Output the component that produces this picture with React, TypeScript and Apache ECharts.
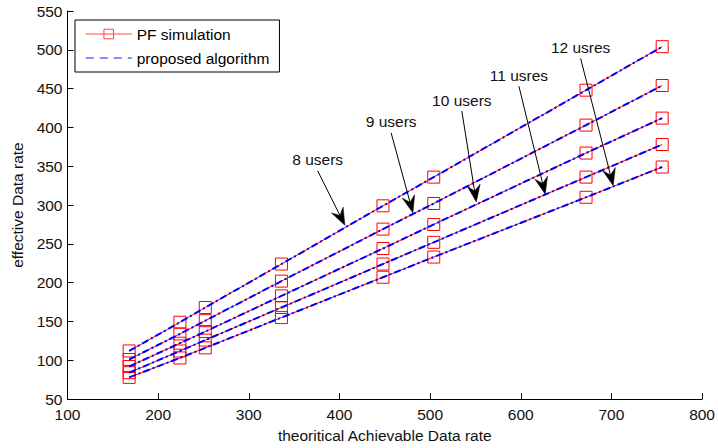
import React, { useEffect, useRef } from "react";
import * as echarts from "echarts";

const xValues = [168, 224, 252, 336, 448, 504, 672, 756];
const series8 = [112, 149, 168, 224, 299, 336, 448, 504];
const series9 = [101, 134, 151, 202, 269, 302, 403, 454];
const series10 = [92, 122, 137, 183, 244, 275, 367, 412];
const series11 = [84, 112, 126, 168, 224, 252, 336, 378];
const series12 = [78, 103, 116, 155, 207, 233, 310, 349];
const allSeries = [series8, series9, series10, series11, series12];

const xTicks = [100, 800, 100]; // min, max, interval
const yTicks = [50, 550, 50];

// annotation: label, arrow start [x,y], arrow tip [x,y] in data coords
const annotationLabels = ["8 users", "9 users", "10 users", "11 usres", "12 usres"];
const annotationStarts = [
  [376, 344],
  [457, 393],
  [535, 421],
  [598, 453],
  [666, 489],
];
const annotationTips = [
  [406, 274],
  [481, 290],
  [551, 304],
  [627, 314],
  [702, 325],
];

const FONT = "'Liberation Sans', Arial, Helvetica, sans-serif";
const FS = 15.5;

export default function App() {
  const ref = useRef<HTMLDivElement>(null);
  useEffect(() => {
    document.body.style.margin = "0";
    if (!ref.current) return;
    const chart = echarts.init(ref.current, undefined, { renderer: "svg" });
    const toPairs = (ys: number[]) => xValues.map((x, i) => [x, ys[i]]);
    const redSeries = allSeries.map((ys) => ({
      type: "line",
      name: "PF simulation",
      data: toPairs(ys),
      symbol: "rect",
      symbolSize: 12,
      showSymbol: true,
      lineStyle: { color: "#ff0000", width: 1 },
      itemStyle: { color: "rgba(0,0,0,0)", borderColor: "#ff0000", borderWidth: 1 },
      z: 2,
    }));
    const blueSeries = allSeries.map((ys) => ({
      type: "line",
      name: "proposed algorithm",
      data: toPairs(ys),
      symbol: "none",
      lineStyle: { color: "#0000ff", width: 2, type: [7, 3, 2, 3] },
      itemStyle: { color: "#0000ff" },
      z: 3,
    }));
    chart.setOption({
      animation: false,
      backgroundColor: "#fff",
      textStyle: { fontFamily: FONT },
      grid: { left: 67.5, right: 12.5, top: 11, bottom: 47 },
      legend: {
        left: 75,
        top: 20,
        orient: "vertical",
        padding: [6, 10, 6, 10],
        itemGap: 8,
        itemWidth: 46,
        itemHeight: 12,
        borderColor: "#000",
        borderWidth: 1,
        backgroundColor: "#fff",
        textStyle: { fontFamily: FONT, fontSize: FS, color: "#000" },
        data: [
          {
            name: "PF simulation",
            itemStyle: { color: "rgba(0,0,0,0)", borderColor: "#ff4444", borderWidth: 1 },
            lineStyle: { color: "#ff4444", width: 1 },
          },
          {
            name: "proposed algorithm",
            itemStyle: { color: "rgba(0,0,0,0)", borderColor: "rgba(0,0,0,0)", borderWidth: 0 },
            lineStyle: { color: "#6666ff", width: 1.5, type: [8, 6] },
          },
        ],
      },
      xAxis: {
        type: "value",
        min: xTicks[0],
        max: xTicks[1],
        interval: xTicks[2],
        name: "theoritical Achievable Data rate",
        nameLocation: "middle",
        nameGap: 27,
        nameTextStyle: { fontFamily: FONT, fontSize: FS, color: "#111" },
        axisLine: { lineStyle: { color: "#000", width: 1 } },
        axisTick: { inside: true, length: 6, lineStyle: { color: "#000" } },
        axisLabel: { fontFamily: FONT, fontSize: FS, color: "#111", margin: 7 },
        splitLine: { show: false },
      },
      yAxis: {
        type: "value",
        min: yTicks[0],
        max: yTicks[1],
        interval: yTicks[2],
        name: "effective Data rate",
        nameLocation: "middle",
        nameGap: 42,
        nameTextStyle: { fontFamily: FONT, fontSize: FS, color: "#111" },
        axisLine: { show: true, lineStyle: { color: "#000", width: 1 } },
        axisTick: { show: true, inside: true, length: 6, lineStyle: { color: "#000" } },
        axisLabel: { fontFamily: FONT, fontSize: FS, color: "#111", margin: 5 },
        splitLine: { show: false },
      },
      series: [...redSeries, ...blueSeries],
    });

    const graphics: any[] = [];
    annotationLabels.forEach((label, i) => {
      const s = chart.convertToPixel({ gridIndex: 0 }, annotationStarts[i]) as number[];
      const t = chart.convertToPixel({ gridIndex: 0 }, annotationTips[i]) as number[];
      const dx = t[0] - s[0];
      const dy = t[1] - s[1];
      const len = Math.sqrt(dx * dx + dy * dy);
      const ux = dx / len;
      const uy = dy / len;
      const px = -uy;
      const py = ux;
      const headLen = 17;
      const notch = 11;
      const halfW = 6.5;
      const bx = t[0] - ux * headLen;
      const by = t[1] - uy * headLen;
      const nx = t[0] - ux * notch;
      const ny = t[1] - uy * notch;
      graphics.push({
        type: "line",
        shape: { x1: s[0], y1: s[1], x2: nx, y2: ny },
        style: { stroke: "#000", lineWidth: 1 },
        z: 10,
      });
      graphics.push({
        type: "polygon",
        shape: {
          points: [
            [t[0], t[1]],
            [bx + px * halfW, by + py * halfW],
            [nx, ny],
            [bx - px * halfW, by - py * halfW],
          ],
        },
        style: { fill: "#000", stroke: "#000", lineWidth: 0.5 },
        z: 10,
      });
      graphics.push({
        type: "text",
        x: s[0],
        y: s[1] - 3,
        style: {
          text: label,
          fontFamily: FONT,
          fontSize: FS,
          fill: "#111",
          align: "center",
          verticalAlign: "bottom",
        },
        z: 10,
      });
    });
    chart.setOption({ graphic: graphics });

    return () => chart.dispose();
  }, []);
  return <div ref={ref} style={{ width: 718, height: 448 }} />;
}
